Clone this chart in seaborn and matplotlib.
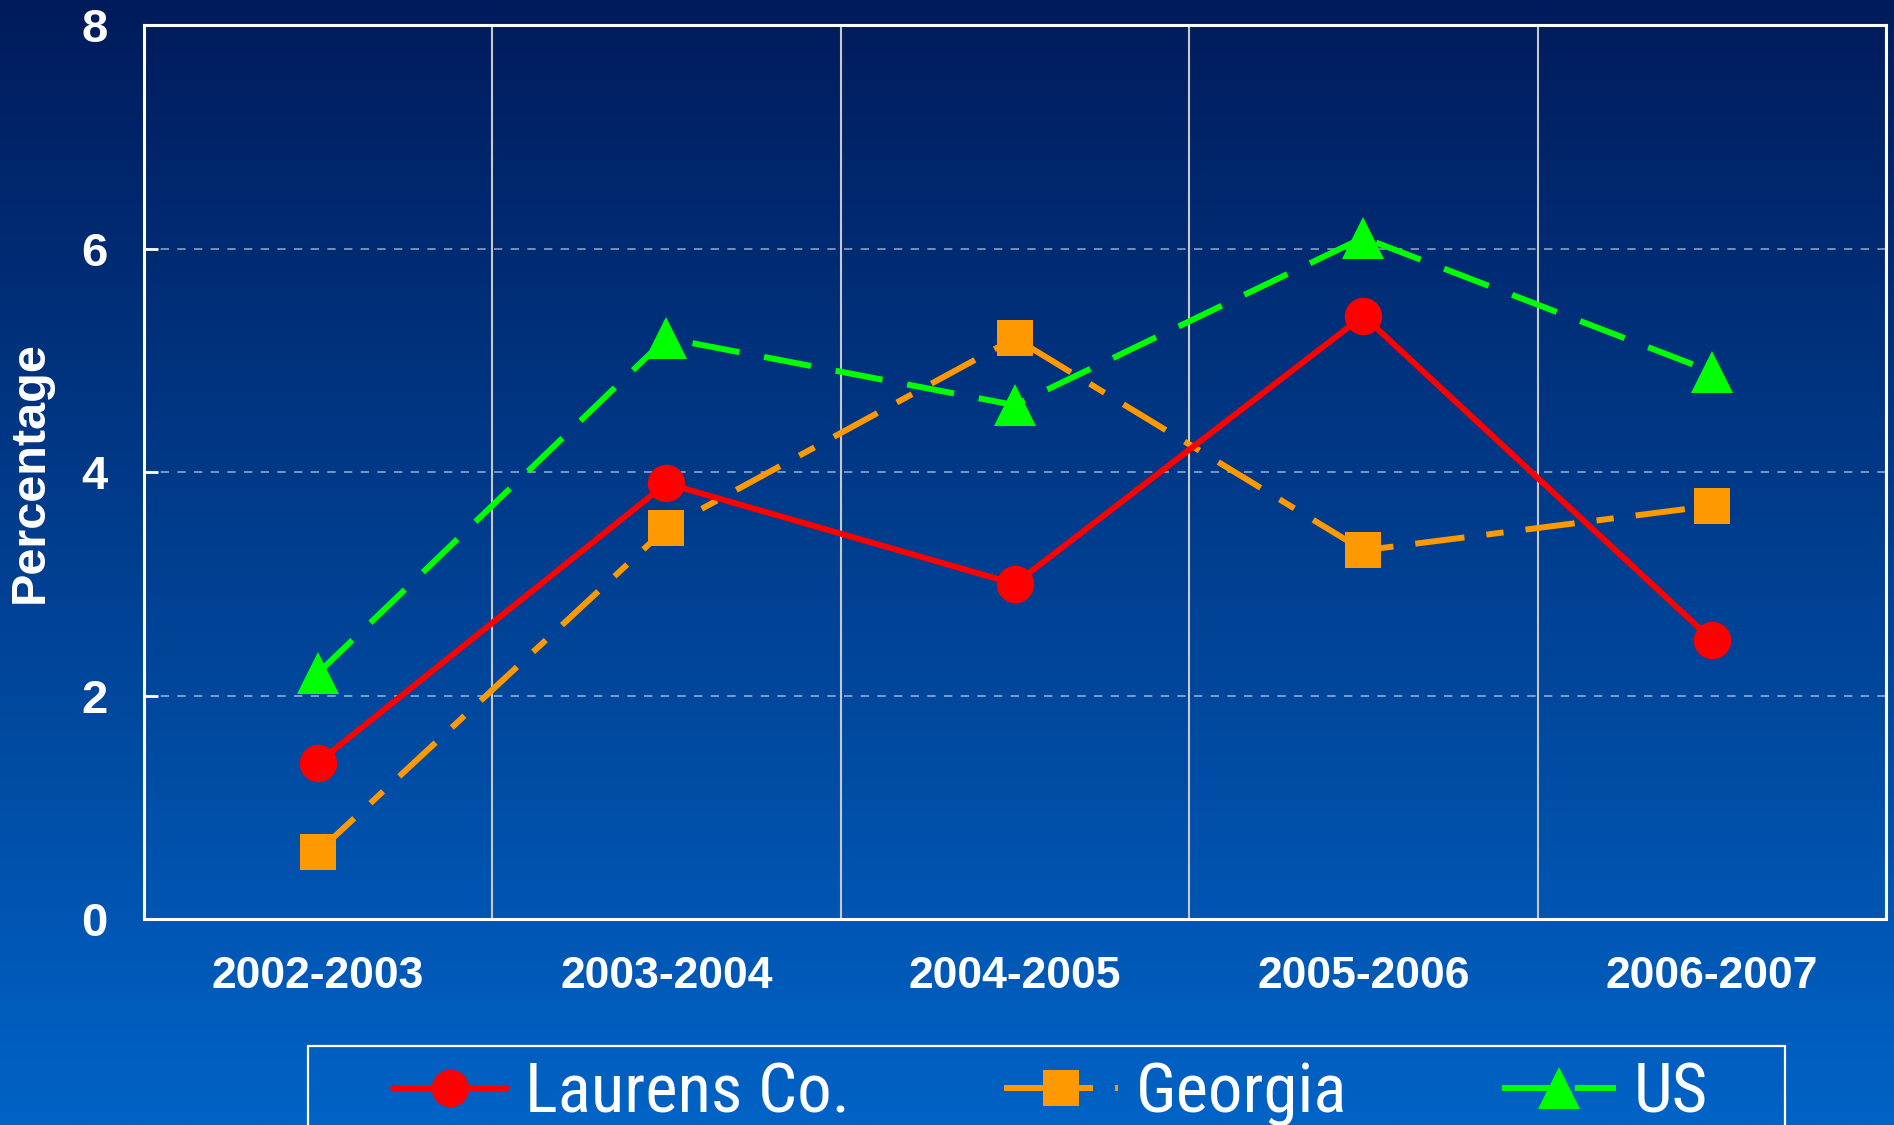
import numpy as np
import matplotlib
matplotlib.use("Agg")
import matplotlib.pyplot as plt
import seaborn as sns
from matplotlib import font_manager
from matplotlib.font_manager import FontProperties
from matplotlib.textpath import TextPath
from matplotlib.patches import Rectangle
from matplotlib.ticker import FixedLocator

# ---- data ----
years = ["2002-2003", "2003-2004", "2004-2005", "2005-2006", "2006-2007"]
laurens = [1.4, 3.9, 3.0, 5.4, 2.5]
georgia = [0.6, 3.5, 5.2, 3.3, 3.7]
us = [2.2, 5.2, 4.6, 6.1, 4.9]
y_ticks = [0, 2, 4, 6, 8]
series_names = ["Laurens Co.", "Georgia", "US"]
y_label = "Percentage"

sns.set_style("white")
plt.rcParams["font.family"] = ["Liberation Sans", "DejaVu Sans"]


def has_font(name):
    try:
        font_manager.findfont(FontProperties(family=name), fallback_to_default=False)
        return True
    except Exception:
        return False


leg_font = "Liberation Sans"
for cand in ["Liberation Sans Narrow", "Roboto Condensed", "DejaVu Sans Condensed",
             "Open Sans Condensed"]:
    if has_font(cand):
        leg_font = cand
        break

# choose legend font size so that "Laurens Co." is ~314 px (226 pt) wide
tp = TextPath((0, 0), series_names[0], size=100, prop=FontProperties(family=leg_font))
leg_size = 100 * 226.0 / tp.get_extents().width

W, H = 1894, 1125
fig = plt.figure(figsize=(W / 100, H / 100), dpi=100)

# background gradient
bg = fig.add_axes([0, 0, 1, 1])
bg.set_zorder(-10)
top_c = np.array([0, 27, 91]) / 255
bot_c = np.array([0, 99, 198]) / 255
t = np.linspace(0, 1, 512)[:, None]
grad = (top_c[None, :] * (1 - t) + bot_c[None, :] * t).reshape(512, 1, 3)
bg.imshow(grad, aspect="auto", extent=[0, 1, 0, 1], interpolation="bilinear")
bg.axis("off")

x0, x1 = 143.7, 1886.0
y_top, y_bot = 25.4, 919.0
ax = fig.add_axes([x0 / W, (H - y_bot) / H, (x1 - x0) / W, (y_bot - y_top) / H])
ax.set_facecolor("none")

lw = 4.3
sns.lineplot(x=years, y=laurens, ax=ax, color="#FF0000", lw=lw, marker="o",
             markersize=27, markeredgewidth=0, label=series_names[0],
             linestyle="-", zorder=5)
sns.lineplot(x=years, y=georgia, ax=ax, color="#FF9900", lw=lw, marker="s",
             markersize=26, markeredgewidth=0, label=series_names[1],
             linestyle=(0, (8.3, 3.7, 2.9, 3.7)), zorder=4)
sns.lineplot(x=years, y=us, ax=ax, color="#00FF00", lw=lw, marker="^",
             markersize=30, markeredgewidth=0, label=series_names[2],
             linestyle=(0, (8, 4.2)), zorder=6)

ax.set_xlim(-0.5, 4.5)
ax.set_ylim(0, 8)
ax.set_yticks(y_ticks)
ax.set_axisbelow(True)
ax.yaxis.grid(True, color="white", alpha=0.55, lw=1.2, linestyle=(0, (5, 5)))
ax.xaxis.set_minor_locator(FixedLocator(np.arange(-0.5, 5.0, 1.0)))
ax.xaxis.grid(False, which="major")
ax.xaxis.grid(True, which="minor", color="#C8C8C8", lw=1.5)

ax.tick_params(axis="x", which="major", length=0, pad=27, labelsize=32,
               labelcolor="white")
ax.tick_params(axis="x", which="minor", length=10, width=1.3, color="#C8C8C8",
               direction="out")
ax.tick_params(axis="y", length=10, width=2, color="white", direction="in",
               pad=26, labelsize=34, labelcolor="white", left=True)
for lab in ax.get_xticklabels() + ax.get_yticklabels():
    lab.set_fontweight("bold")

for s in ax.spines.values():
    s.set_visible(True)
    s.set_color("white")
    s.set_linewidth(2.2)

ax.set_xlabel("")
ax.set_ylabel(y_label, fontsize=35, fontweight="bold", color="white")
ax.yaxis.set_label_coords((53 - x0) / (x1 - x0), 0.5)

handles, labels = ax.get_legend_handles_labels()
if ax.get_legend() is not None:
    ax.get_legend().remove()
leg = fig.legend(handles, labels, loc="center left",
                 bbox_to_anchor=(393 / W, 0.028), ncol=3, frameon=False,
                 borderpad=0, borderaxespad=0,
                 handlelength=82.0 / leg_size,
                 handletextpad=13.0 / leg_size,
                 columnspacing=111.0 / leg_size,
                 prop=FontProperties(family=[leg_font], size=leg_size))
for txt in leg.get_texts():
    txt.set_color("white")

fig.add_artist(Rectangle((308 / W, -0.05), (1785 - 308) / W, (H - 1046) / H + 0.05,
                         transform=fig.transFigure, fill=False,
                         edgecolor="white", lw=1.6))

fig.savefig("out.png", dpi=100)
